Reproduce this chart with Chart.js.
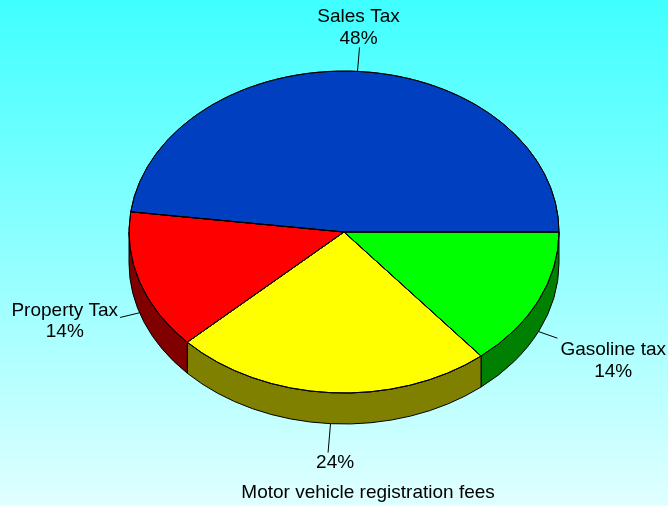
<!DOCTYPE html>
<html>
<head>
<meta charset="utf-8">
<script src="https://cdn.jsdelivr.net/npm/chart.js@4.4.1/dist/chart.umd.min.js"></script>
<style>
  html, body { margin: 0; padding: 0; }
  body { width: 668px; height: 506px; overflow: hidden; }
</style>
</head>
<body>
<canvas id="c" width="668" height="506"></canvas>
<script>
// slices listed clockwise from 3 o'clock
const categories = ['Gasoline tax', 'Motor vehicle registration fees', 'Property Tax', 'Sales Tax'];
const shares = [14, 24, 14, 48];
const topColors = ['#00ff00', '#ffff00', '#ff0000', '#0040c0'];
const sideColors = ['#008000', '#808000', '#800000', '#002060'];

const TILT = 161 / 215;
const DEPTH = 31;
const FONT = '19px "Liberation Sans", Arial, sans-serif';

const bgPlugin = {
  id: 'bg',
  beforeDraw(chart) {
    const ctx = chart.ctx;
    const g = ctx.createLinearGradient(0, 0, 0, chart.height);
    g.addColorStop(0, '#40ffff');
    g.addColorStop(1, '#e0ffff');
    ctx.save();
    ctx.fillStyle = g;
    ctx.fillRect(0, 0, chart.width, chart.height);
    ctx.restore();
  }
};

// draws the pie's walls, then squashes the library's own top face into an ellipse
const pie3d = {
  id: 'pie3d',
  beforeDatasetDraw(chart, args) {
    const ctx = chart.ctx;
    const arcs = chart.getDatasetMeta(args.index).data;
    ctx.save();
    ctx.lineWidth = 1;
    ctx.strokeStyle = '#000';
    arcs.forEach((a, i) => {
      const cx = a.x, cy = a.y, rx = a.outerRadius, ry = rx * TILT;
      const a0 = Math.max(a.startAngle, 0);
      const a1 = Math.min(a.endAngle, Math.PI);
      if (a1 <= a0) return;
      ctx.beginPath();
      ctx.ellipse(cx, cy, rx, ry, 0, a0, a1, false);
      ctx.lineTo(cx + rx * Math.cos(a1), cy + ry * Math.sin(a1) + DEPTH);
      ctx.ellipse(cx, cy + DEPTH, rx, ry, 0, a1, a0, true);
      ctx.closePath();
      ctx.fillStyle = sideColors[i];
      ctx.fill();
      ctx.stroke();
    });
    ctx.restore();
    const a = arcs[0];
    ctx.save();
    ctx.translate(a.x, a.y);
    ctx.scale(1, TILT);
    ctx.translate(-a.x, -a.y);
  },
  afterDatasetDraw(chart, args) {
    const ctx = chart.ctx;
    ctx.restore();
    // crisp outlines for the squashed top face
    ctx.save();
    ctx.lineWidth = 1;
    ctx.strokeStyle = '#000';
    chart.getDatasetMeta(args.index).data.forEach(a => {
      const rx = a.outerRadius, ry = rx * TILT;
      ctx.beginPath();
      ctx.moveTo(a.x, a.y);
      ctx.ellipse(a.x, a.y, rx, ry, 0, a.startAngle, a.endAngle, false);
      ctx.closePath();
      ctx.stroke();
    });
    ctx.restore();
  },
  afterDraw(chart) {
    const ctx = chart.ctx;
    const arcs = chart.getDatasetMeta(0).data;
    ctx.save();
    ctx.font = FONT;
    ctx.fillStyle = '#000';
    ctx.strokeStyle = '#000';
    ctx.lineWidth = 1;
    ctx.textAlign = 'center';
    ctx.textBaseline = 'middle';
    arcs.forEach((a, i) => {
      const m = (a.startAngle + a.endAngle) / 2;
      const c = Math.cos(m), s = Math.sin(m);
      const rx = a.outerRadius, ry = rx * TILT;
      const px = a.x + rx * c;
      const py = a.y + ry * s + (s > 0 ? DEPTH : 0);
      const n = Math.hypot(c, s * TILT);
      const ux = c / n, uy = s * TILT / n;
      const top = s < -0.9, bottom = s > 0.9;
      const len = top ? 24 : bottom ? 29 : 20;
      const ex = px + ux * len, ey = py + uy * len;
      ctx.beginPath();
      ctx.moveTo(px, py);
      ctx.lineTo(ex, ey);
      ctx.stroke();
      const name = categories[i];
      const pct = shares[i] + '%';
      if (top) {
        ctx.fillText(name, ex - 1, ey - 31);
        ctx.fillText(pct, ex - 1, ey - 9);
      } else if (bottom) {
        ctx.fillText(pct, ex + 7, ey + 10);
        ctx.fillText(name, ex + 40, ey + 40);
      } else {
        const w = Math.max(ctx.measureText(name).width, ctx.measureText(pct).width);
        if (c < 0) {
          const bx = ex - 2 - w / 2;
          ctx.fillText(name, bx, ey - 7);
          ctx.fillText(pct, bx, ey + 14);
        } else {
          const bx = ex + 3 + w / 2;
          ctx.fillText(name, bx, ey + 12);
          ctx.fillText(pct, bx, ey + 34);
        }
      }
    });
    ctx.restore();
  }
};

new Chart(document.getElementById('c'), {
  type: 'pie',
  data: {
    labels: categories,
    datasets: [{
      data: shares,
      backgroundColor: topColors,
      borderColor: '#000',
      borderWidth: 1,
      radius: 215
    }]
  },
  options: {
    responsive: false,
    animation: false,
    events: [],
    rotation: 90,
    layout: { padding: { left: 20, bottom: 42 } },
    plugins: {
      legend: { display: false },
      tooltip: { enabled: false }
    }
  },
  plugins: [bgPlugin, pie3d]
});
</script>
</body>
</html>
